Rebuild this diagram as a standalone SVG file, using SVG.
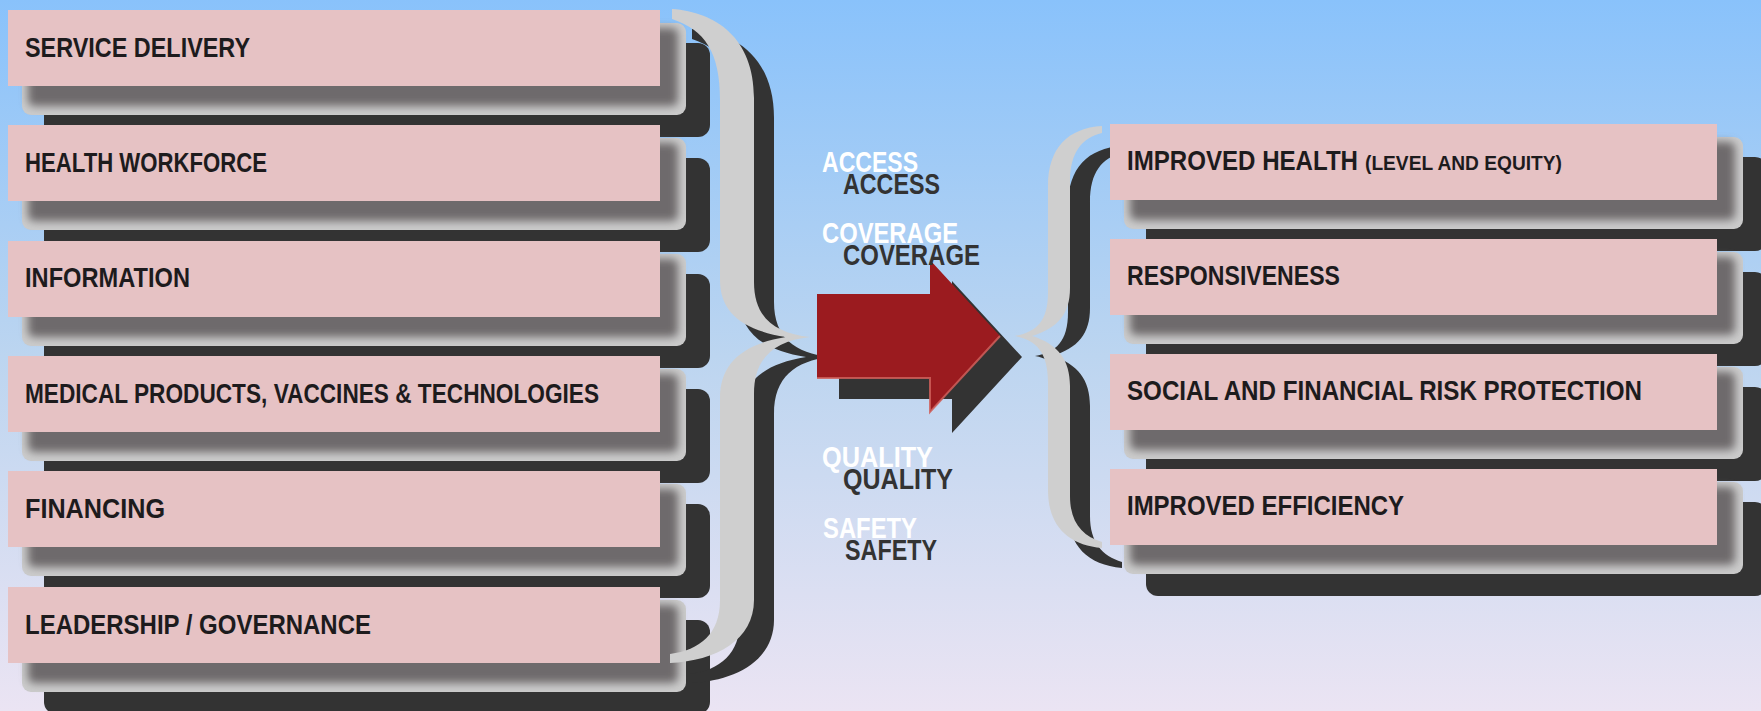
<svg xmlns="http://www.w3.org/2000/svg" width="1761" height="711" viewBox="0 0 1761 711">
<style>
.box{fill:#e6c2c4}
.lbl{font-family:"Liberation Sans Narrow","Liberation Sans",Arial,sans-serif;font-weight:bold;font-size:28px;fill:#1d1b1d}
.sml{font-size:20px}
.dk{fill:#333333}
.gr{fill:#cbcbcb}
.gi{fill:#6e6b6c}
.brace{fill:#cfcfcf}
.mid{font-family:"Liberation Sans",Arial,sans-serif;font-weight:bold;font-size:30px}
.mw{fill:#ffffff}
.md{fill:#333333}
</style>
<defs>
<linearGradient id="bg" x1="0" y1="0" x2="0" y2="1">
<stop offset="0" stop-color="#89c2fb"/>
<stop offset="0.5" stop-color="#bcd5f0"/>
<stop offset="1" stop-color="#ebe4f3"/>
</linearGradient>
<filter id="blur" x="-10%" y="-40%" width="120%" height="180%"><feGaussianBlur stdDeviation="4"/></filter>
<g id="shL">
<rect class="dk" x="36" y="33" width="666" height="94" rx="12"/>
<rect class="gr" x="14" y="13" width="664" height="92" rx="9"/>
<rect class="gi" x="20" y="18" width="650" height="78" rx="6" filter="url(#blur)"/>
</g>
<g id="shR">
<rect class="dk" x="36" y="33" width="621" height="94" rx="12"/>
<rect class="gr" x="14" y="13" width="619" height="92" rx="9"/>
<rect class="gi" x="20" y="18" width="605" height="78" rx="6" filter="url(#blur)"/>
</g>
<path id="braceL" d="M672,9 C716,12 754,38 754,98 L754,282 C754,318 775,333 810,337 C775,341 754,357 754,394 L754,600 C754,640 716,661 670,663 L670,654 C700,650 720,634 720,600 L720,398 C720,364 742,344 786,337 C742,330 720,312 720,280 L720,100 C720,52 705,30 672,19 Z"/>
<path id="braceR" d="M1102,126 C1068,128 1048,148 1048,186 L1048,292 C1048,322 1036,332 1015,336 C1036,340 1048,352 1048,382 L1048,490 C1048,526 1068,545 1102,548 L1102,542 C1082,536 1070,522 1070,496 L1070,386 C1070,360 1058,344 1032,336 C1058,328 1070,314 1070,288 L1070,182 C1070,152 1082,138 1102,133 Z"/>
<polygon id="arrowShape" points="817,294 930,294 930,260 1000,336 930,412 930,378 817,378"/>
</defs>
<rect x="0" y="0" width="1761" height="711" fill="url(#bg)"/>

<g id="node-service-delivery">
<use href="#shL" x="8" y="10"/>
<rect class="box" x="8" y="10" width="652" height="76"/>
<text class="lbl" x="25" y="57" textLength="225" lengthAdjust="spacingAndGlyphs">SERVICE DELIVERY</text>
</g>
<g id="node-health-workforce">
<use href="#shL" x="8" y="125"/>
<rect class="box" x="8" y="125" width="652" height="76"/>
<text class="lbl" x="25" y="172" textLength="242" lengthAdjust="spacingAndGlyphs">HEALTH WORKFORCE</text>
</g>
<g id="node-information">
<use href="#shL" x="8" y="241"/>
<rect class="box" x="8" y="241" width="652" height="76"/>
<text class="lbl" x="25" y="287" textLength="165" lengthAdjust="spacingAndGlyphs">INFORMATION</text>
</g>
<g id="node-medical-products">
<use href="#shL" x="8" y="356"/>
<rect class="box" x="8" y="356" width="652" height="76"/>
<text class="lbl" x="25" y="403" textLength="574" lengthAdjust="spacingAndGlyphs">MEDICAL PRODUCTS, VACCINES &amp; TECHNOLOGIES</text>
</g>
<g id="node-financing">
<use href="#shL" x="8" y="471"/>
<rect class="box" x="8" y="471" width="652" height="76"/>
<text class="lbl" x="25" y="518" textLength="140" lengthAdjust="spacingAndGlyphs">FINANCING</text>
</g>
<g id="node-leadership-governance">
<use href="#shL" x="8" y="587"/>
<rect class="box" x="8" y="587" width="652" height="76"/>
<text class="lbl" x="25" y="634" textLength="346" lengthAdjust="spacingAndGlyphs">LEADERSHIP / GOVERNANCE</text>
</g>

<g id="connectors">
<use href="#braceL" class="dk" transform="translate(20,20)"/>
<use href="#braceL" class="brace"/>
<use href="#braceR" class="dk" transform="translate(20,20)"/>
<use href="#braceR" class="brace"/>
<use href="#arrowShape" class="dk" transform="translate(22,21)"/>
<use href="#arrowShape" fill="#9b1b1f"/>
<polyline points="817,378 930,378 930,412 1000,336" fill="none" stroke="#cf5f5b" stroke-width="2" opacity="0.85"/>
</g>

<g id="flow-labels" class="mid">
<text class="md" x="843" y="194" textLength="97" lengthAdjust="spacingAndGlyphs">ACCESS</text>
<text class="mw" x="822" y="172" textLength="96" lengthAdjust="spacingAndGlyphs">ACCESS</text>
<text class="md" x="843" y="265" textLength="137" lengthAdjust="spacingAndGlyphs">COVERAGE</text>
<text class="mw" x="822" y="243" textLength="136" lengthAdjust="spacingAndGlyphs">COVERAGE</text>
<text class="md" x="843" y="489" textLength="110" lengthAdjust="spacingAndGlyphs">QUALITY</text>
<text class="mw" x="822" y="467" textLength="111" lengthAdjust="spacingAndGlyphs">QUALITY</text>
<text class="md" x="845" y="560" textLength="92" lengthAdjust="spacingAndGlyphs">SAFETY</text>
<text class="mw" x="823" y="538" textLength="94" lengthAdjust="spacingAndGlyphs">SAFETY</text>
</g>

<g id="node-improved-health">
<use href="#shR" x="1110" y="124"/>
<rect class="box" x="1110" y="124" width="607" height="76"/>
<text class="lbl" x="1127" y="170" textLength="231" lengthAdjust="spacingAndGlyphs">IMPROVED HEALTH</text>
<text class="lbl sml" x="1365" y="170" textLength="197" lengthAdjust="spacingAndGlyphs">(LEVEL AND EQUITY)</text>
</g>
<g id="node-responsiveness">
<use href="#shR" x="1110" y="239"/>
<rect class="box" x="1110" y="239" width="607" height="76"/>
<text class="lbl" x="1127" y="285" textLength="213" lengthAdjust="spacingAndGlyphs">RESPONSIVENESS</text>
</g>
<g id="node-risk-protection">
<use href="#shR" x="1110" y="354"/>
<rect class="box" x="1110" y="354" width="607" height="76"/>
<text class="lbl" x="1127" y="400" textLength="515" lengthAdjust="spacingAndGlyphs">SOCIAL AND FINANCIAL RISK PROTECTION</text>
</g>
<g id="node-improved-efficiency">
<use href="#shR" x="1110" y="469"/>
<rect class="box" x="1110" y="469" width="607" height="76"/>
<text class="lbl" x="1127" y="515" textLength="277" lengthAdjust="spacingAndGlyphs">IMPROVED EFFICIENCY</text>
</g>
</svg>
